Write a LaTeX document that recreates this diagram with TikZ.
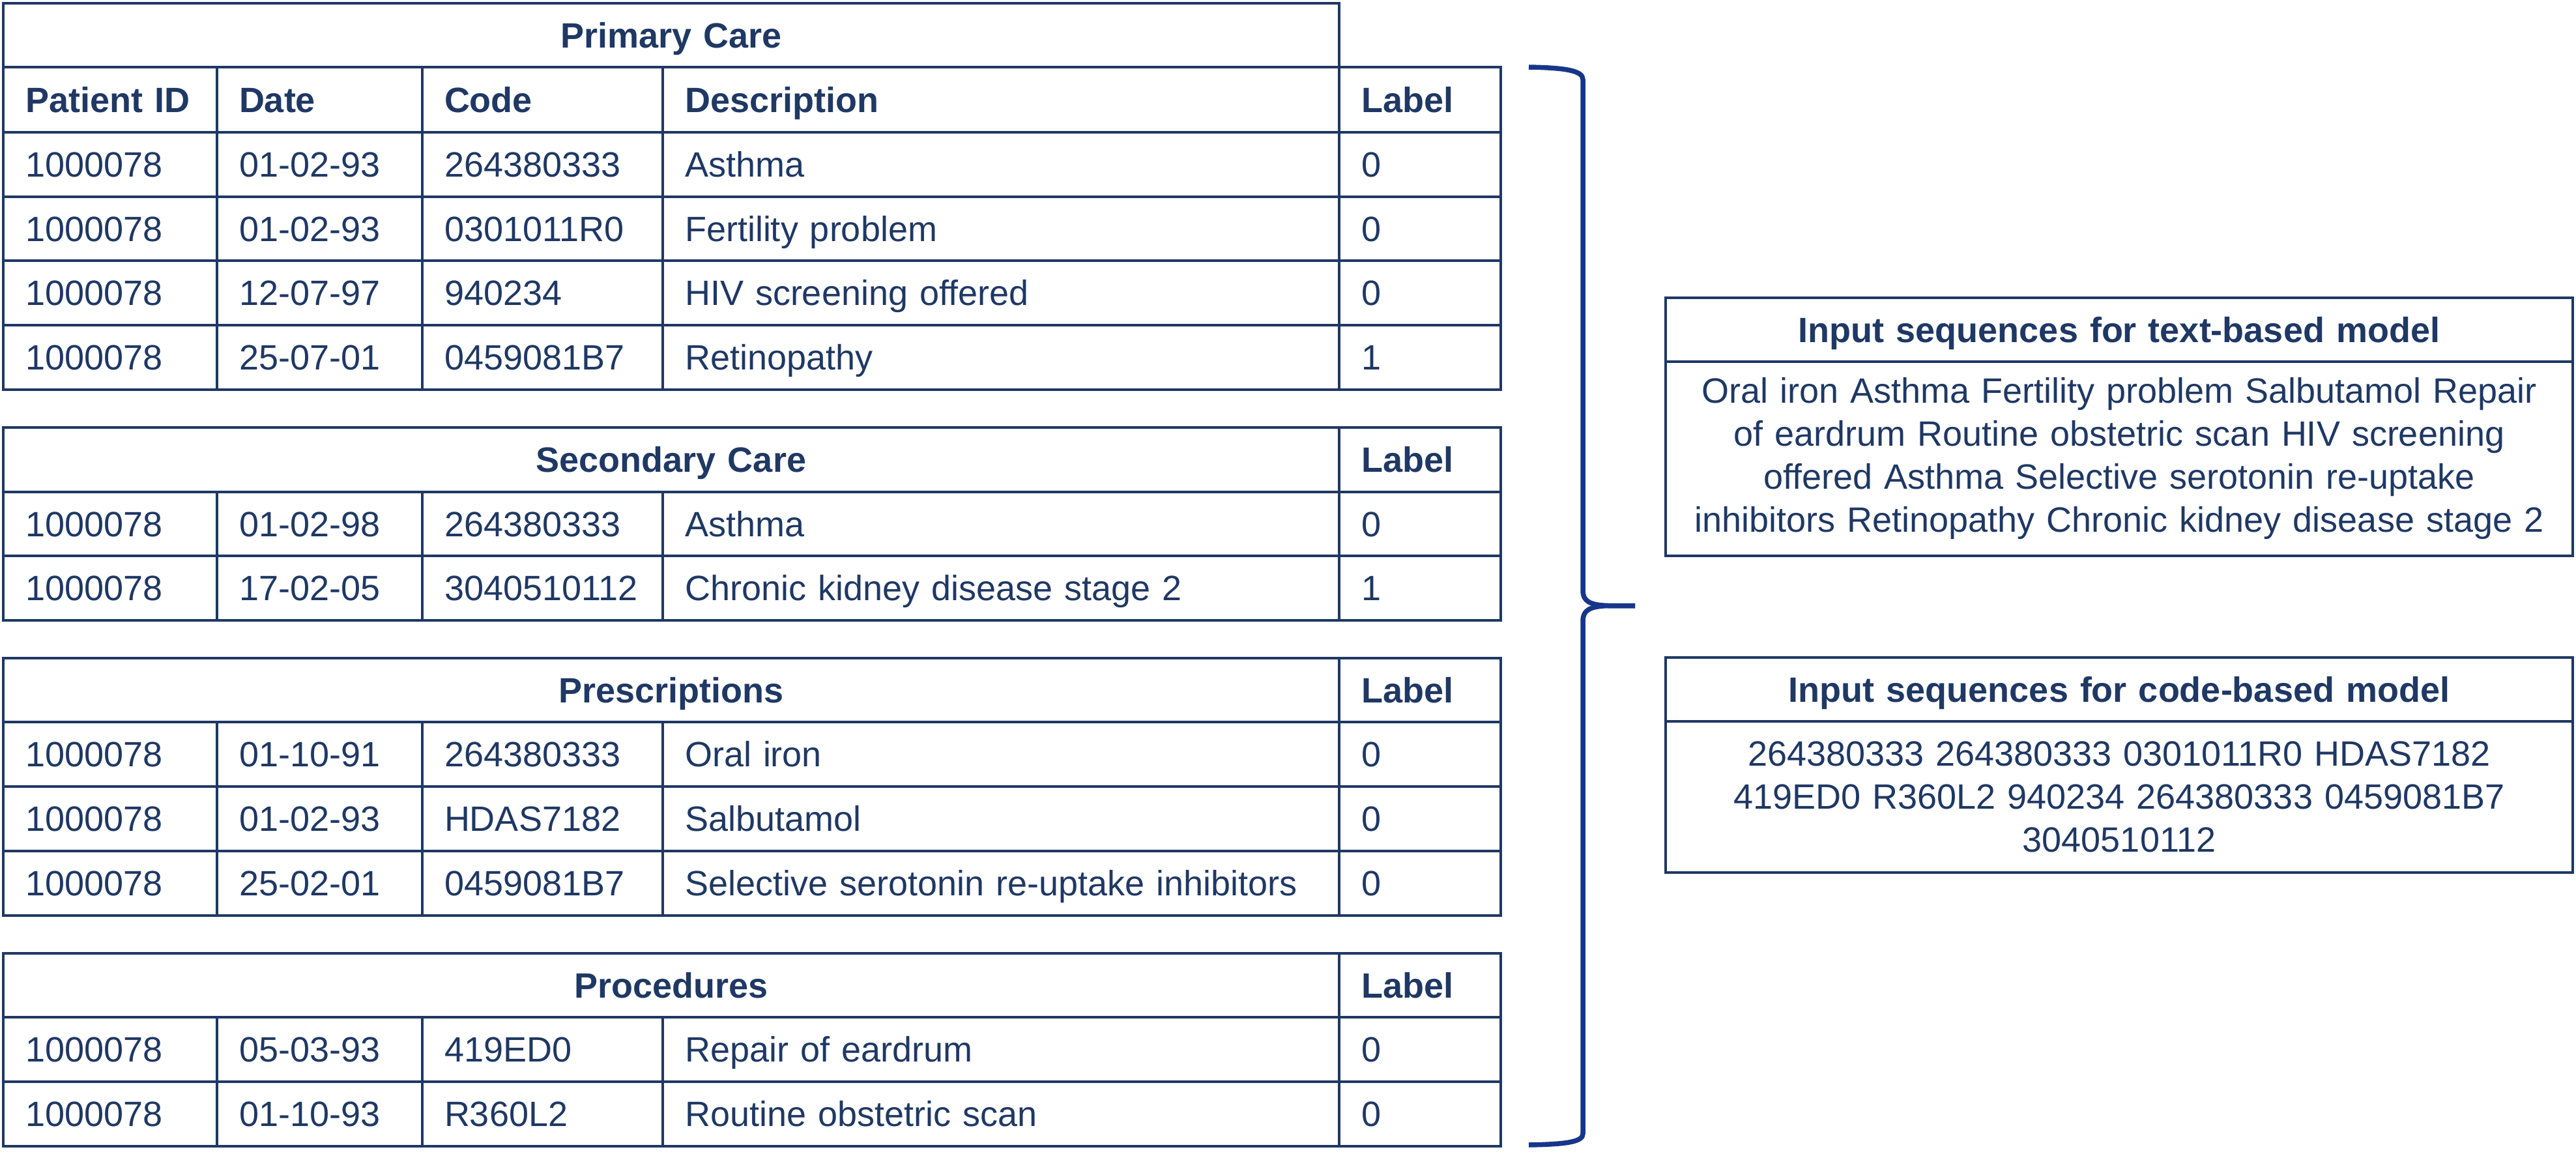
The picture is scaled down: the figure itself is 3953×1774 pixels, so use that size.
\documentclass[tikz,border=0pt]{standalone}
\usepackage{fontspec}
\setmainfont{Liberation Sans}
\definecolor{navy}{HTML}{1F3864}
\definecolor{bracecol}{HTML}{17368A}
\newcommand\cellat[7]{%
  \pgfmathsetmacro\tw{#5-68}%
  \node[#2, minimum width=#5pt, minimum height=#6pt, text width=\tw pt] (#1) at (#3,#4) {#7};}
\newcommand\tabrow[8]{%
  \cellat{#1-a}{cellbox}{3}{#2}{328}{#3}{#4}%
  \cellat{#1-b}{cellbox}{331}{#2}{315}{#3}{#5}%
  \cellat{#1-c}{cellbox}{646}{#2}{369}{#3}{#6}%
  \cellat{#1-d}{cellbox}{1015}{#2}{1038}{#3}{#7}%
  \cellat{#1-e}{cellbox}{2053}{#2}{248}{#3}{#8}}
\begin{document}
\begin{tikzpicture}[x=1pt,y=-1pt,
  cellbox/.style={draw=navy, line width=4pt, anchor=north west, inner xsep=34pt, inner ysep=0pt,
    align=left, text=navy, font=\fontsize{54pt}{67pt}\selectfont, text height=38.5pt, text depth=0pt},
  titlebox/.style={cellbox, align=center, font=\fontsize{54pt}{67pt}\selectfont\bfseries},
  seqhead/.style={draw=navy, line width=4pt, anchor=north west, inner xsep=14pt, inner ysep=0pt,
    align=center, text=navy, font=\fontsize{54pt}{67pt}\selectfont\bfseries, text height=38.5pt, text depth=0pt,
    minimum width=1392pt, text width=1364pt},
  seqbody/.style={draw=navy, line width=4pt, anchor=north west, inner xsep=14pt, inner ysep=0pt,
    align=center, text=navy, font=\fontsize{54pt}{66pt}\selectfont,
    minimum width=1392pt, text width=1364pt},
  bracestyle/.style={draw=bracecol, line width=7.5pt, line cap=butt, line join=round}]
\useasboundingbox (0,0) rectangle (3953,1774);

% Primary Care
\cellat{pc-title}{titlebox}{3}{3}{2050}{98}{Primary Care}
\tabrow{pc-h}{101}{100}{\textbf{Patient ID}}{\textbf{Date}}{\textbf{Code}}{\textbf{Description}}{\textbf{Label}}
\tabrow{pc-1}{201}{99}{1000078}{01-02-93}{264380333}{Asthma}{0}
\tabrow{pc-2}{300}{98}{1000078}{01-02-93}{0301011R0}{Fertility problem}{0}
\tabrow{pc-3}{398}{99}{1000078}{12-07-97}{940234}{HIV screening offered}{0}
\tabrow{pc-4}{497}{99}{1000078}{25-07-01}{0459081B7}{Retinopathy}{1}

% Secondary Care
\cellat{sc-title}{titlebox}{3}{654}{2050}{99}{Secondary Care}
\cellat{sc-label}{cellbox}{2053}{654}{248}{99}{\textbf{Label}}
\tabrow{sc-1}{753}{98}{1000078}{01-02-98}{264380333}{Asthma}{0}
\tabrow{sc-2}{851}{99}{1000078}{17-02-05}{3040510112}{Chronic kidney disease stage 2}{1}

% Prescriptions
\cellat{rx-title}{titlebox}{3}{1008}{2050}{98}{Prescriptions}
\cellat{rx-label}{cellbox}{2053}{1008}{248}{98}{\textbf{Label}}
\tabrow{rx-1}{1106}{99}{1000078}{01-10-91}{264380333}{Oral iron}{0}
\tabrow{rx-2}{1205}{99}{1000078}{01-02-93}{HDAS7182}{Salbutamol}{0}
\tabrow{rx-3}{1304}{99}{1000078}{25-02-01}{0459081B7}{Selective serotonin re-uptake inhibitors}{0}

% Procedures
\cellat{pr-title}{titlebox}{3}{1461}{2050}{98}{Procedures}
\cellat{pr-label}{cellbox}{2053}{1461}{248}{98}{\textbf{Label}}
\tabrow{pr-1}{1559}{99}{1000078}{05-03-93}{419ED0}{Repair of eardrum}{0}
\tabrow{pr-2}{1658}{99}{1000078}{01-10-93}{R360L2}{Routine obstetric scan}{0}

% Brace
\coordinate (braceTop) at (2346,103);
\coordinate (braceTip) at (2509,929.5);
\coordinate (braceBot) at (2346,1757);
\draw[bracestyle] (braceTop) .. controls (2405,104) and (2429,109) .. (2429,122)
  -- (2429,906) .. controls (2429,923) and (2440,928.5) .. (2468,929.5) -- (braceTip);
\draw[bracestyle] (braceTip) -- (2468,929.5) .. controls (2440,930.5) and (2429,936) .. (2429,953)
  -- (2429,1740) .. controls (2429,1752) and (2405,1756) .. (braceBot);

% Input sequence boxes
\node[seqhead, minimum height=98pt] (txt-head) at (2554,455) {Input sequences for text-based model};
\node[seqbody, minimum height=298pt] (txt-body) at (2554,553) {Oral iron Asthma Fertility problem Salbutamol Repair\\of eardrum Routine obstetric scan HIV screening\\offered Asthma Selective serotonin re-uptake\\inhibitors Retinopathy Chronic kidney disease stage 2};
\node[seqhead, minimum height=98pt] (code-head) at (2554,1007) {Input sequences for code-based model};
\node[seqbody, minimum height=232pt] (code-body) at (2554,1105) {264380333 264380333 0301011R0 HDAS7182\\419ED0 R360L2 940234 264380333 0459081B7\\3040510112};
\end{tikzpicture}
\end{document}
